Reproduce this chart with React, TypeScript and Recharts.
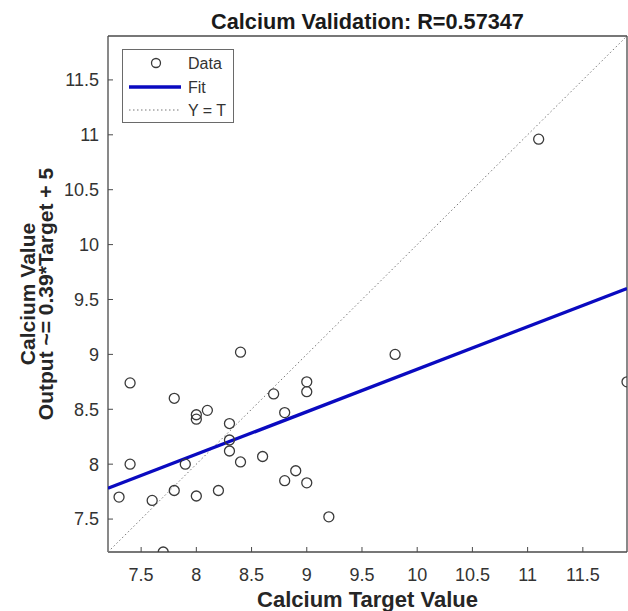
import React from 'react';
import { ScatterChart, Scatter, XAxis, YAxis, Label } from 'recharts';

// Calcium target vs network output
const targets = [
  8.4, 7.4, 7.8, 9.0, 9.0, 8.7, 8.1, 8.0, 8.0, 8.8,
  8.3, 8.3, 8.3, 8.6, 8.4, 7.4, 7.9, 8.9, 8.8, 9.0,
  7.8, 8.2, 7.3, 8.0, 7.6, 9.2, 7.7, 9.8, 11.9, 11.1,
];
const outputs = [
  9.02, 8.74, 8.6, 8.75, 8.66, 8.64, 8.49, 8.45, 8.41, 8.47,
  8.37, 8.22, 8.12, 8.07, 8.02, 8.0, 8.0, 7.94, 7.85, 7.83,
  7.76, 7.76, 7.7, 7.71, 7.67, 7.52, 7.2, 9.0, 8.75, 10.96,
];

// fit line end points and the identity line
const fitX = [7.2, 11.9];
const fitY = [7.78, 9.6];
const identity = [7.2, 11.9];

const axisDomain = [7.2, 11.9];
const tickValues = [7.5, 8, 8.5, 9, 9.5, 10, 10.5, 11, 11.5];

const points = targets.map((t, i) => ({ x: t, y: outputs[i] }));
const fitLine = fitX.map((x, i) => ({ x, y: fitY[i] }));
const ytLine = identity.map((v) => ({ x: v, y: v }));

const FONT = '"Liberation Sans", Arial, Helvetica, sans-serif';
const AXIS = '#4a4a4a';
const TEXT = '#333';

const Circle = (props: any) => (
  <circle cx={props.cx} cy={props.cy} r={5} fill="none" stroke="#3a3a3a" strokeWidth={1.3} />
);
const NoShape = () => <g />;

const LegendBox = () => (
  <svg width={112} height={74} style={{ position: 'absolute', left: 122, top: 49, background: '#fff' }}>
    <rect x={0.5} y={0.5} width={111} height={73} fill="#fff" stroke="#6a6a6a" strokeWidth={1} />
    <circle cx={34} cy={14} r={4.5} fill="none" stroke="#3a3a3a" strokeWidth={1.3} />
    <text x={66} y={20} fontSize={16} fontFamily={FONT} fill={TEXT}>Data</text>
    <line x1={7} x2={59} y1={38} y2={38} stroke="#0a0ac0" strokeWidth={3.3} />
    <text x={66} y={44} fontSize={16} fontFamily={FONT} fill={TEXT}>Fit</text>
    <line x1={7} x2={59} y1={61} y2={61} stroke="#777" strokeWidth={1} strokeDasharray="1.5 2.5" />
    <text x={66} y={67} fontSize={16} fontFamily={FONT} fill={TEXT}>Y = T</text>
  </svg>
);

const App: React.FC = () => {
  const tickStyle = { fontSize: 18, fontFamily: FONT, fill: TEXT };
  return (
    <div style={{ position: 'absolute', left: 0, top: 0, width: 628, height: 611, background: '#fff' }}>
      <ScatterChart width={628} height={611} margin={{ top: 35, right: 0, bottom: 0, left: 0 }}>
        <XAxis
          xAxisId="b"
          type="number"
          dataKey="x"
          domain={axisDomain}
          ticks={tickValues}
          allowDataOverflow
          height={59}
          tickSize={-5}
          tickMargin={21}
          tick={tickStyle}
          fontSize={18}
          fontFamily={FONT}
          axisLine={{ stroke: AXIS, strokeWidth: 1.3 }}
          tickLine={{ stroke: AXIS }}
        >
          <Label
            content={(p: any) => (
              <text
                x={p.viewBox.x + p.viewBox.width / 2}
                y={607}
                textAnchor="middle"
                fontSize={22}
                fontWeight="bold"
                fontFamily={FONT}
                fill="#262626"
              >
                Calcium Target Value
              </text>
            )}
          />
        </XAxis>
        <XAxis
          xAxisId="t"
          orientation="top"
          type="number"
          dataKey="x"
          domain={axisDomain}
          ticks={tickValues}
          allowDataOverflow
          height={1}
          tickSize={-5}
          tick={false}
          axisLine={{ stroke: AXIS, strokeWidth: 1.3 }}
          tickLine={{ stroke: AXIS }}
        >
          <Label
            content={(p: any) => (
              <text
                x={p.viewBox.x + p.viewBox.width / 2}
                y={28.5}
                textAnchor="middle"
                fontSize={21.7}
                fontWeight="bold"
                fontFamily={FONT}
                fill="#1a1a1a"
              >
                Calcium Validation: R=0.57347
              </text>
            )}
          />
        </XAxis>
        <YAxis
          yAxisId="l"
          type="number"
          dataKey="y"
          domain={axisDomain}
          ticks={tickValues}
          allowDataOverflow
          width={108}
          tickSize={-5}
          tickMargin={14}
          tick={tickStyle}
          fontSize={18}
          fontFamily={FONT}
          axisLine={{ stroke: AXIS, strokeWidth: 1.3 }}
          tickLine={{ stroke: AXIS }}
        >
          <Label
            content={(p: any) => {
              const cy = p.viewBox.y + p.viewBox.height / 2;
              return (
                <g fontSize={21} fontWeight="bold" fontFamily={FONT} fill="#262626" textAnchor="middle">
                  <text x={35} y={cy} transform={`rotate(-90 35 ${cy})`}>Calcium Value</text>
                  <text x={53} y={cy} transform={`rotate(-90 53 ${cy})`}>Output ~= 0.39*Target + 5</text>
                </g>
              );
            }}
          />
        </YAxis>
        <YAxis
          yAxisId="r"
          orientation="right"
          type="number"
          dataKey="y"
          domain={axisDomain}
          ticks={tickValues}
          allowDataOverflow
          width={1}
          tickSize={-5}
          tick={false}
          axisLine={{ stroke: AXIS, strokeWidth: 1.3 }}
          tickLine={{ stroke: AXIS }}
        />
        <Scatter
          xAxisId="b"
          yAxisId="l"
          data={ytLine}
          line={{ stroke: '#777', strokeWidth: 1, strokeDasharray: '1.5 2.5' }}
          shape={NoShape}
          isAnimationActive={false}
        />
        <Scatter
          xAxisId="b"
          yAxisId="l"
          data={fitLine}
          line={{ stroke: '#0a0ac0', strokeWidth: 3.3 }}
          shape={NoShape}
          isAnimationActive={false}
        />
        <Scatter
          xAxisId="b"
          yAxisId="l"
          data={points}
          shape={Circle}
          isAnimationActive={false}
        />
      </ScatterChart>
      <LegendBox />
    </div>
  );
};

export default App;
